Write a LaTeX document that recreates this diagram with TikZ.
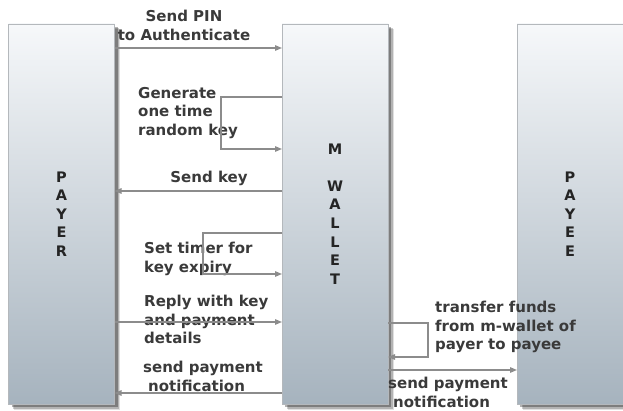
\documentclass[tikz,border=0pt]{standalone}
\usepackage{fontspec}
\setmainfont{DejaVu Sans}
\usetikzlibrary{shadows,arrows.meta}
\definecolor{laneTop}{HTML}{F6F8FA}
\definecolor{laneBot}{HTML}{A6B3BE}
\definecolor{laneEdge}{HTML}{B4B8BC}
\definecolor{laneText}{HTML}{242424}
\definecolor{msgText}{HTML}{3A3A3A}
\definecolor{flow}{HTML}{8C8C8C}
\begin{document}
\begin{tikzpicture}[x=1pt,y=-1pt,
  softshadow/.style={
    drop shadow={shadow xshift=5.5pt, shadow yshift=-5.5pt, opacity=0.12, fill=black},
    drop shadow={shadow xshift=4.5pt, shadow yshift=-4.5pt, opacity=0.2, fill=black},
    drop shadow={shadow xshift=3pt, shadow yshift=-3pt, opacity=0.3, fill=black}},
  lane/.style={draw=laneEdge, line width=0.6pt, top color=laneTop, bottom color=laneBot,
    minimum width=106pt, minimum height=380pt, inner sep=0pt, outer sep=0pt,
    font=\bfseries\fontsize{14.5}{18.6}\selectfont, text=laneText, align=center, softshadow},
  msg/.style={font=\bfseries\fontsize{15}{18.5}\selectfont, text=msgText, inner sep=0pt, align=left, anchor=north west},
  flowline/.style={draw=flow, line width=1.3pt, -{Triangle[length=7pt,width=5.5pt]}}]
  \useasboundingbox (0,0) rectangle (623,411);

  % the three lanes
  \node[lane] (payer)  at (61.5,214) {P\\A\\Y\\E\\R};
  \node[lane] (wallet) at (335,214)  {M\\[18.6pt]W\\A\\L\\L\\E\\T};
  \node[lane] (payee)  at (570,214)  {P\\A\\Y\\E\\E};

  % message labels
  \node[msg, align=center, anchor=north] (pin) at (184,10) {Send PIN\\to Authenticate};
  \node[msg] (gen) at (138,87) {Generate\\one time\\random key};
  \node[msg, anchor=north] (skey) at (209,171) {Send key};
  \node[msg] (timer) at (144,242) {Set timer for\\key expiry};
  \node[msg] (reply) at (144,295) {Reply with key\\and payment\\details};
  \node[msg] (notl) at (143,361) {send payment\\\hspace*{5pt}notification};
  \node[msg] (xfer) at (435,301) {transfer funds\\from m-wallet of\\payer to payee};
  \node[msg] (notr) at (388,377) {send payment\\\hspace*{5pt}notification};

  % heights of the flows
  \coordinate (y1) at (0,48);
  \coordinate (y2a) at (0,97);
  \coordinate (y2b) at (0,149);
  \coordinate (y3) at (0,191);
  \coordinate (y4a) at (0,233);
  \coordinate (y4b) at (0,274);
  \coordinate (y5) at (0,322);
  \coordinate (y6) at (0,393);
  \coordinate (y7a) at (0,323);
  \coordinate (y7b) at (0,357);
  \coordinate (y8) at (0,370);

  % flows
  \draw[flowline] (payer.east |- y1) -- (wallet.west |- y1);
  \draw[flowline] (wallet.west |- y2a) -- (221,97) -- (221,149) -- (wallet.west |- y2b);
  \draw[flowline] (wallet.west |- y3) -- (payer.east |- y3);
  \draw[flowline] (wallet.west |- y4a) -- (203,233) -- (203,274) -- (wallet.west |- y4b);
  \draw[flowline] (payer.east |- y5) -- (wallet.west |- y5);
  \draw[flowline] (wallet.west |- y6) -- (payer.east |- y6);
  \draw[flowline] (wallet.east |- y7a) -- (428,323) -- (428,357) -- (wallet.east |- y7b);
  \draw[flowline] (wallet.east |- y8) -- (payee.west |- y8);
\end{tikzpicture}
\end{document}
